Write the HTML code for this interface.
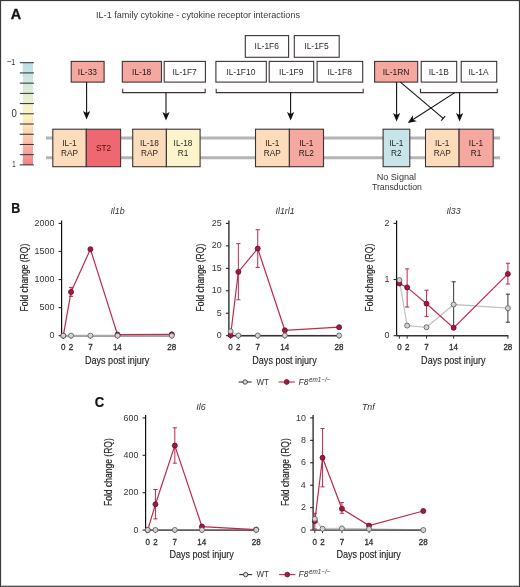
<!DOCTYPE html>
<html><head><meta charset="utf-8"><style>
html,body{margin:0;padding:0;background:#fff;}
svg{display:block;will-change:transform;filter:blur(0.3px);}
text{font-family:"Liberation Sans",sans-serif;}
</style></head><body>
<svg width="520" height="587" viewBox="0 0 520 587">
<rect x="0.5" y="0.5" width="519" height="585.8" fill="#fff" stroke="#3a3a3a" stroke-width="1.2"/>
<text x="10.84" y="18.8" font-size="14.4" font-weight="bold" fill="#111" textLength="10.44" lengthAdjust="spacingAndGlyphs" stroke="#111" stroke-width="0.3">A</text>
<text x="96.06" y="17.8" font-size="9.4" fill="#3a3a3a" textLength="203.97" lengthAdjust="spacingAndGlyphs">IL-1 family cytokine - cytokine receptor interactions</text>
<defs><linearGradient id="cb" x1="0" y1="0" x2="0" y2="1"><stop offset="0" stop-color="#bcdde9"/><stop offset="0.2" stop-color="#d3e8e0"/><stop offset="0.35" stop-color="#e6efcf"/><stop offset="0.5" stop-color="#fcf5c6"/><stop offset="0.65" stop-color="#fcdcb4"/><stop offset="0.8" stop-color="#f8b9a8"/><stop offset="1" stop-color="#f07f86"/></linearGradient></defs>
<rect x="22.8" y="62.7" width="10.2" height="102.2" fill="url(#cb)"/>
<line x1="19.8" y1="62.7" x2="33.9" y2="62.7" stroke="#2e2e2e" stroke-width="1"/>
<line x1="19.8" y1="72.92" x2="33.9" y2="72.92" stroke="#2e2e2e" stroke-width="1"/>
<line x1="19.8" y1="83.14" x2="33.9" y2="83.14" stroke="#2e2e2e" stroke-width="1"/>
<line x1="19.8" y1="93.36" x2="33.9" y2="93.36" stroke="#2e2e2e" stroke-width="1"/>
<line x1="19.8" y1="103.58" x2="33.9" y2="103.58" stroke="#2e2e2e" stroke-width="1"/>
<line x1="19.8" y1="113.8" x2="33.9" y2="113.8" stroke="#2e2e2e" stroke-width="1"/>
<line x1="19.8" y1="124.02" x2="33.9" y2="124.02" stroke="#2e2e2e" stroke-width="1"/>
<line x1="19.8" y1="134.24" x2="33.9" y2="134.24" stroke="#2e2e2e" stroke-width="1"/>
<line x1="19.8" y1="144.46" x2="33.9" y2="144.46" stroke="#2e2e2e" stroke-width="1"/>
<line x1="19.8" y1="154.68" x2="33.9" y2="154.68" stroke="#2e2e2e" stroke-width="1"/>
<line x1="19.8" y1="164.9" x2="33.9" y2="164.9" stroke="#2e2e2e" stroke-width="1"/>
<text x="7.04" y="65" font-size="9.6" fill="#333" textLength="8.32" lengthAdjust="spacingAndGlyphs">−1</text>
<text x="11.52" y="116.8" font-size="10.3" fill="#333" textLength="5.35" lengthAdjust="spacingAndGlyphs">0</text>
<text x="12.14" y="167.3" font-size="9.8" fill="#333" textLength="3.35" lengthAdjust="spacingAndGlyphs">1</text>
<line x1="46" y1="138" x2="500" y2="138" stroke="#b4b4b4" stroke-width="3"/>
<line x1="46" y1="157.7" x2="500" y2="157.7" stroke="#b4b4b4" stroke-width="3"/>
<rect x="71.2" y="61.4" width="32.9" height="20.7" fill="#f4a8a0" stroke="#3c3434" stroke-width="1.1"/>
<text x="77.83" y="74.6" font-size="9.7" fill="#2a2a2a" textLength="19.23" lengthAdjust="spacingAndGlyphs" style="mix-blend-mode:multiply">IL-33</text>
<rect x="122.3" y="61.4" width="39.2" height="20.7" fill="#f4a8a0" stroke="#3c3434" stroke-width="1.1"/>
<text x="132.08" y="74.6" font-size="9.7" fill="#2a2a2a" textLength="19.23" lengthAdjust="spacingAndGlyphs" style="mix-blend-mode:multiply">IL-18</text>
<rect x="164.2" y="61.4" width="41.2" height="20.7" fill="#fff" stroke="#3c3434" stroke-width="1.1"/>
<text x="172.43" y="74.6" font-size="9.7" fill="#2a2a2a" textLength="24.39" lengthAdjust="spacingAndGlyphs" style="mix-blend-mode:multiply">IL-1F7</text>
<rect x="245.3" y="35.6" width="43.3" height="21.7" fill="#fff" stroke="#3c3434" stroke-width="1.1"/>
<text x="254.55" y="49.3" font-size="9.7" fill="#2a2a2a" textLength="24.39" lengthAdjust="spacingAndGlyphs" style="mix-blend-mode:multiply">IL-1F6</text>
<rect x="294.3" y="35.6" width="44.9" height="21.7" fill="#fff" stroke="#3c3434" stroke-width="1.1"/>
<text x="304.34" y="49.3" font-size="9.7" fill="#2a2a2a" textLength="24.39" lengthAdjust="spacingAndGlyphs" style="mix-blend-mode:multiply">IL-1F5</text>
<rect x="215.9" y="61.4" width="50.4" height="20.7" fill="#fff" stroke="#3c3434" stroke-width="1.1"/>
<text x="226.33" y="74.6" font-size="9.7" fill="#2a2a2a" textLength="29.08" lengthAdjust="spacingAndGlyphs" style="mix-blend-mode:multiply">IL-1F10</text>
<rect x="269.2" y="61.4" width="44.5" height="20.7" fill="#fff" stroke="#3c3434" stroke-width="1.1"/>
<text x="279.07" y="74.6" font-size="9.7" fill="#2a2a2a" textLength="24.39" lengthAdjust="spacingAndGlyphs" style="mix-blend-mode:multiply">IL-1F9</text>
<rect x="317.1" y="61.4" width="45.6" height="20.7" fill="#fff" stroke="#3c3434" stroke-width="1.1"/>
<text x="327.5" y="74.6" font-size="9.7" fill="#2a2a2a" textLength="24.39" lengthAdjust="spacingAndGlyphs" style="mix-blend-mode:multiply">IL-1F8</text>
<rect x="374.6" y="61.4" width="43.1" height="20.7" fill="#f4a8a0" stroke="#3c3434" stroke-width="1.1"/>
<text x="382.74" y="74.6" font-size="9.7" fill="#2a2a2a" textLength="26.73" lengthAdjust="spacingAndGlyphs" style="mix-blend-mode:multiply">IL-1RN</text>
<rect x="421.2" y="61.4" width="35.5" height="20.7" fill="#fff" stroke="#3c3434" stroke-width="1.1"/>
<text x="428.7" y="74.6" font-size="9.7" fill="#2a2a2a" textLength="20.17" lengthAdjust="spacingAndGlyphs" style="mix-blend-mode:multiply">IL-1B</text>
<rect x="461.2" y="61.4" width="35.5" height="20.7" fill="#fff" stroke="#3c3434" stroke-width="1.1"/>
<text x="468.48" y="74.6" font-size="9.7" fill="#2a2a2a" textLength="20.17" lengthAdjust="spacingAndGlyphs" style="mix-blend-mode:multiply">IL-1A</text>
<path d="M122.7 88.8V92.6H205.2V88.8" fill="none" stroke="#3c3434" stroke-width="1.1"/>
<path d="M216.2 88.8V92.6H363.2V88.8" fill="none" stroke="#3c3434" stroke-width="1.1"/>
<path d="M420.5 88.8V92.6H497.3V88.8" fill="none" stroke="#3c3434" stroke-width="1.1"/>
<line x1="86.6" y1="82.1" x2="86.6" y2="113.03" stroke="#111" stroke-width="1.1"/>
<path d="M86.6 119.4L83 110.9L86.6 113.03L90.2 110.9Z" fill="#111"/>
<line x1="166" y1="92.6" x2="166" y2="114.03" stroke="#111" stroke-width="1.1"/>
<path d="M166 120.4L162.4 111.9L166 114.03L169.6 111.9Z" fill="#111"/>
<line x1="290.6" y1="92.6" x2="290.6" y2="114.03" stroke="#111" stroke-width="1.1"/>
<path d="M290.6 120.4L287 111.9L290.6 114.03L294.2 111.9Z" fill="#111"/>
<line x1="396.6" y1="82.1" x2="396.6" y2="115.12" stroke="#111" stroke-width="1.1"/>
<path d="M396.6 121.5L393 113L396.6 115.12L400.2 113Z" fill="#111"/>
<line x1="459.6" y1="92.6" x2="459.6" y2="115.12" stroke="#111" stroke-width="1.1"/>
<path d="M459.6 121.5L456 113L459.6 115.12L463.2 113Z" fill="#111"/>
<line x1="454.8" y1="92.6" x2="413.06" y2="119.45" stroke="#111" stroke-width="1.1"/>
<path d="M407.7 122.9L412.9 115.27L413.06 119.45L416.8 121.33Z" fill="#111"/>
<line x1="400.4" y1="82.1" x2="443.2" y2="118.4" stroke="#111" stroke-width="1.1"/>
<line x1="441.26" y1="120.69" x2="445.14" y2="116.11" stroke="#111" stroke-width="1.1"/>
<rect x="52.8" y="129.2" width="33.5" height="37.5" fill="#fcdcbb" stroke="#3c3434" stroke-width="1.1"/>
<text x="62.24" y="145.6" font-size="9.4" fill="#2a2a2a" textLength="14.25" lengthAdjust="spacingAndGlyphs" style="mix-blend-mode:multiply">IL-1</text>
<text x="60.92" y="156" font-size="9.4" fill="#2a2a2a" textLength="17.01" lengthAdjust="spacingAndGlyphs" style="mix-blend-mode:multiply">RAP</text>
<rect x="86.3" y="129.2" width="34.3" height="37.5" fill="#ed6870" stroke="#3c3434" stroke-width="1.1"/>
<text x="95.88" y="151" font-size="9.4" fill="#6a1019" textLength="15.17" lengthAdjust="spacingAndGlyphs" style="mix-blend-mode:multiply">ST2</text>
<rect x="132.7" y="129.2" width="33.7" height="37.5" fill="#fcdcbb" stroke="#3c3434" stroke-width="1.1"/>
<text x="139.92" y="145.6" font-size="9.4" fill="#2a2a2a" textLength="18.85" lengthAdjust="spacingAndGlyphs" style="mix-blend-mode:multiply">IL-18</text>
<text x="140.92" y="156" font-size="9.4" fill="#2a2a2a" textLength="17.01" lengthAdjust="spacingAndGlyphs" style="mix-blend-mode:multiply">RAP</text>
<rect x="166.4" y="129.2" width="33.7" height="37.5" fill="#fcf5cc" stroke="#3c3434" stroke-width="1.1"/>
<text x="173.62" y="145.6" font-size="9.4" fill="#2a2a2a" textLength="18.85" lengthAdjust="spacingAndGlyphs" style="mix-blend-mode:multiply">IL-18</text>
<text x="177.83" y="156" font-size="9.4" fill="#2a2a2a" textLength="10.57" lengthAdjust="spacingAndGlyphs" style="mix-blend-mode:multiply">R1</text>
<rect x="255.5" y="129.2" width="33.9" height="37.5" fill="#fcdcbb" stroke="#3c3434" stroke-width="1.1"/>
<text x="265.14" y="145.6" font-size="9.4" fill="#2a2a2a" textLength="14.25" lengthAdjust="spacingAndGlyphs" style="mix-blend-mode:multiply">IL-1</text>
<text x="263.82" y="156" font-size="9.4" fill="#2a2a2a" textLength="17.01" lengthAdjust="spacingAndGlyphs" style="mix-blend-mode:multiply">RAP</text>
<rect x="289.4" y="129.2" width="34.1" height="37.5" fill="#f4a8a0" stroke="#3c3434" stroke-width="1.1"/>
<text x="299.14" y="145.6" font-size="9.4" fill="#2a2a2a" textLength="14.25" lengthAdjust="spacingAndGlyphs" style="mix-blend-mode:multiply">IL-1</text>
<text x="298.73" y="156" font-size="9.4" fill="#2a2a2a" textLength="15.17" lengthAdjust="spacingAndGlyphs" style="mix-blend-mode:multiply">RL2</text>
<rect x="383.1" y="129.2" width="26.7" height="37.5" fill="#c7e5e9" stroke="#3c3434" stroke-width="1.1"/>
<text x="389.14" y="145.6" font-size="9.4" fill="#2a2a2a" textLength="14.25" lengthAdjust="spacingAndGlyphs" style="mix-blend-mode:multiply">IL-1</text>
<text x="391.03" y="156" font-size="9.4" fill="#2a2a2a" textLength="10.57" lengthAdjust="spacingAndGlyphs" style="mix-blend-mode:multiply">R2</text>
<rect x="425.5" y="129.2" width="33.6" height="37.5" fill="#fcdcbb" stroke="#3c3434" stroke-width="1.1"/>
<text x="434.99" y="145.6" font-size="9.4" fill="#2a2a2a" textLength="14.25" lengthAdjust="spacingAndGlyphs" style="mix-blend-mode:multiply">IL-1</text>
<text x="433.67" y="156" font-size="9.4" fill="#2a2a2a" textLength="17.01" lengthAdjust="spacingAndGlyphs" style="mix-blend-mode:multiply">RAP</text>
<rect x="459.1" y="129.2" width="34.1" height="37.5" fill="#f4a8a0" stroke="#3c3434" stroke-width="1.1"/>
<text x="468.84" y="145.6" font-size="9.4" fill="#2a2a2a" textLength="14.25" lengthAdjust="spacingAndGlyphs" style="mix-blend-mode:multiply">IL-1</text>
<text x="470.73" y="156" font-size="9.4" fill="#2a2a2a" textLength="10.57" lengthAdjust="spacingAndGlyphs" style="mix-blend-mode:multiply">R1</text>
<text x="376.65" y="179.5" font-size="8.8" fill="#333" textLength="39.46" lengthAdjust="spacingAndGlyphs">No Signal</text>
<text x="371.91" y="190" font-size="8.8" fill="#333" textLength="50.06" lengthAdjust="spacingAndGlyphs">Transduction</text>
<text x="11.17" y="212.7" font-size="14.2" font-weight="bold" fill="#111" textLength="9" lengthAdjust="spacingAndGlyphs" stroke="#111" stroke-width="0.2">B</text>
<text x="94.86" y="406.5" font-size="14.2" font-weight="bold" fill="#111" textLength="9.5" lengthAdjust="spacingAndGlyphs" stroke="#111" stroke-width="0.2">C</text>
<text x="110.4" y="214.2" font-size="9.8" font-style="italic" fill="#333" textLength="14.22" lengthAdjust="spacingAndGlyphs">Il1b</text>
<line x1="61.6" y1="335.7" x2="61.6" y2="220.4" stroke="#111" stroke-width="1.2"/>
<line x1="58.6" y1="335.7" x2="61.6" y2="335.7" stroke="#222" stroke-width="1.1"/>
<text x="49.39" y="338.3" font-size="9.1" fill="#333" textLength="4.96" lengthAdjust="spacingAndGlyphs">0</text>
<line x1="58.6" y1="307.62" x2="61.6" y2="307.62" stroke="#222" stroke-width="1.1"/>
<text x="39.47" y="310.23" font-size="9.1" fill="#333" textLength="14.88" lengthAdjust="spacingAndGlyphs">500</text>
<line x1="58.6" y1="279.55" x2="61.6" y2="279.55" stroke="#222" stroke-width="1.1"/>
<text x="34.51" y="282.15" font-size="9.1" fill="#333" textLength="19.84" lengthAdjust="spacingAndGlyphs">1000</text>
<line x1="58.6" y1="251.47" x2="61.6" y2="251.47" stroke="#222" stroke-width="1.1"/>
<text x="34.51" y="254.07" font-size="9.1" fill="#333" textLength="19.84" lengthAdjust="spacingAndGlyphs">1500</text>
<line x1="58.6" y1="223.4" x2="61.6" y2="223.4" stroke="#222" stroke-width="1.1"/>
<text x="34.51" y="226" font-size="9.1" fill="#333" textLength="19.84" lengthAdjust="spacingAndGlyphs">2000</text>
<line x1="63.3" y1="335.7" x2="63.3" y2="338.7" stroke="#333" stroke-width="1"/>
<text x="61.07" y="350.4" font-size="9.9" fill="#2a2a2a" textLength="4.46" lengthAdjust="spacingAndGlyphs" stroke="#2a2a2a" stroke-width="0.3">0</text>
<line x1="71.05" y1="335.7" x2="71.05" y2="338.7" stroke="#333" stroke-width="1"/>
<text x="68.82" y="350.4" font-size="9.9" fill="#2a2a2a" textLength="4.46" lengthAdjust="spacingAndGlyphs" stroke="#2a2a2a" stroke-width="0.3">2</text>
<line x1="90.42" y1="335.7" x2="90.42" y2="338.7" stroke="#333" stroke-width="1"/>
<text x="88.19" y="350.4" font-size="9.9" fill="#2a2a2a" textLength="4.46" lengthAdjust="spacingAndGlyphs" stroke="#2a2a2a" stroke-width="0.3">7</text>
<line x1="117.55" y1="335.7" x2="117.55" y2="338.7" stroke="#333" stroke-width="1"/>
<text x="112.9" y="350.4" font-size="9.9" fill="#2a2a2a" textLength="8.92" lengthAdjust="spacingAndGlyphs" stroke="#2a2a2a" stroke-width="0.3">14</text>
<line x1="171.8" y1="335.7" x2="171.8" y2="338.7" stroke="#333" stroke-width="1"/>
<text x="167.31" y="350.4" font-size="9.9" fill="#2a2a2a" textLength="8.92" lengthAdjust="spacingAndGlyphs" stroke="#2a2a2a" stroke-width="0.3">28</text>
<line x1="71.05" y1="296.39" x2="71.05" y2="287.41" stroke="#bd2a4c" stroke-width="1"/>
<line x1="68.95" y1="296.39" x2="73.15" y2="296.39" stroke="#bd2a4c" stroke-width="1"/>
<line x1="68.95" y1="287.41" x2="73.15" y2="287.41" stroke="#bd2a4c" stroke-width="1"/>
<line x1="61.6" y1="335.7" x2="172.3" y2="335.7" stroke="#333" stroke-width="1.4"/>
<polyline points="63.3,335.64 71.05,335.64 90.42,335.64 117.55,335.64 171.8,335.64" fill="none" stroke="#aaa" stroke-width="1.9"/>
<polyline points="63.3,335.7 71.05,291.9 90.42,249.23 117.55,334.58 171.8,334.3" fill="none" stroke="#bd2a4c" stroke-width="1.2"/>
<circle cx="63.3" cy="335.7" r="2.5" fill="#a8183e" stroke="#5e0b22" stroke-width="0.8"/>
<circle cx="71.05" cy="291.9" r="2.5" fill="#a8183e" stroke="#5e0b22" stroke-width="0.8"/>
<circle cx="90.42" cy="249.23" r="2.5" fill="#a8183e" stroke="#5e0b22" stroke-width="0.8"/>
<circle cx="117.55" cy="334.58" r="2.5" fill="#a8183e" stroke="#5e0b22" stroke-width="0.8"/>
<circle cx="171.8" cy="334.3" r="2.5" fill="#a8183e" stroke="#5e0b22" stroke-width="0.8"/>
<circle cx="63.3" cy="335.64" r="2.5" fill="#d4d4d4" stroke="#555" stroke-width="0.8"/>
<circle cx="71.05" cy="335.64" r="2.5" fill="#d4d4d4" stroke="#555" stroke-width="0.8"/>
<circle cx="90.42" cy="335.64" r="2.5" fill="#d4d4d4" stroke="#555" stroke-width="0.8"/>
<circle cx="117.55" cy="335.64" r="2.5" fill="#d4d4d4" stroke="#555" stroke-width="0.8"/>
<circle cx="171.8" cy="335.64" r="2.5" fill="#d4d4d4" stroke="#555" stroke-width="0.8"/>
<text x="85.01" y="363.9" font-size="10.9" fill="#222" textLength="64.36" lengthAdjust="spacingAndGlyphs" stroke="#222" stroke-width="0.15">Days post injury</text>
<text transform="translate(27.9,277.65) rotate(-90)" x="-33.89" y="0" font-size="10.4" fill="#222" stroke="#222" stroke-width="0.15" textLength="67.78" lengthAdjust="spacingAndGlyphs">Fold change (RQ)</text>
<text x="275.49" y="214.2" font-size="9.8" font-style="italic" fill="#333" textLength="19.12" lengthAdjust="spacingAndGlyphs">Il1rl1</text>
<line x1="228.9" y1="335.7" x2="228.9" y2="220.4" stroke="#111" stroke-width="1.2"/>
<line x1="225.9" y1="335.7" x2="228.9" y2="335.7" stroke="#222" stroke-width="1.1"/>
<text x="216.69" y="338.3" font-size="9.1" fill="#333" textLength="4.96" lengthAdjust="spacingAndGlyphs">0</text>
<line x1="225.9" y1="313.24" x2="228.9" y2="313.24" stroke="#222" stroke-width="1.1"/>
<text x="216.71" y="315.84" font-size="9.1" fill="#333" textLength="4.96" lengthAdjust="spacingAndGlyphs">5</text>
<line x1="225.9" y1="290.78" x2="228.9" y2="290.78" stroke="#222" stroke-width="1.1"/>
<text x="211.73" y="293.38" font-size="9.1" fill="#333" textLength="9.92" lengthAdjust="spacingAndGlyphs">10</text>
<line x1="225.9" y1="268.32" x2="228.9" y2="268.32" stroke="#222" stroke-width="1.1"/>
<text x="211.75" y="270.92" font-size="9.1" fill="#333" textLength="9.92" lengthAdjust="spacingAndGlyphs">15</text>
<line x1="225.9" y1="245.86" x2="228.9" y2="245.86" stroke="#222" stroke-width="1.1"/>
<text x="211.73" y="248.46" font-size="9.1" fill="#333" textLength="9.92" lengthAdjust="spacingAndGlyphs">20</text>
<line x1="225.9" y1="223.4" x2="228.9" y2="223.4" stroke="#222" stroke-width="1.1"/>
<text x="211.75" y="226" font-size="9.1" fill="#333" textLength="9.92" lengthAdjust="spacingAndGlyphs">25</text>
<line x1="230.6" y1="335.7" x2="230.6" y2="338.7" stroke="#333" stroke-width="1"/>
<text x="228.37" y="350.4" font-size="9.9" fill="#2a2a2a" textLength="4.46" lengthAdjust="spacingAndGlyphs" stroke="#2a2a2a" stroke-width="0.3">0</text>
<line x1="238.35" y1="335.7" x2="238.35" y2="338.7" stroke="#333" stroke-width="1"/>
<text x="236.12" y="350.4" font-size="9.9" fill="#2a2a2a" textLength="4.46" lengthAdjust="spacingAndGlyphs" stroke="#2a2a2a" stroke-width="0.3">2</text>
<line x1="257.73" y1="335.7" x2="257.73" y2="338.7" stroke="#333" stroke-width="1"/>
<text x="255.49" y="350.4" font-size="9.9" fill="#2a2a2a" textLength="4.46" lengthAdjust="spacingAndGlyphs" stroke="#2a2a2a" stroke-width="0.3">7</text>
<line x1="284.85" y1="335.7" x2="284.85" y2="338.7" stroke="#333" stroke-width="1"/>
<text x="280.2" y="350.4" font-size="9.9" fill="#2a2a2a" textLength="8.92" lengthAdjust="spacingAndGlyphs" stroke="#2a2a2a" stroke-width="0.3">14</text>
<line x1="339.1" y1="335.7" x2="339.1" y2="338.7" stroke="#333" stroke-width="1"/>
<text x="334.61" y="350.4" font-size="9.9" fill="#2a2a2a" textLength="8.92" lengthAdjust="spacingAndGlyphs" stroke="#2a2a2a" stroke-width="0.3">28</text>
<line x1="238.35" y1="299.76" x2="238.35" y2="243.61" stroke="#bd2a4c" stroke-width="1"/>
<line x1="236.25" y1="299.76" x2="240.45" y2="299.76" stroke="#bd2a4c" stroke-width="1"/>
<line x1="236.25" y1="243.61" x2="240.45" y2="243.61" stroke="#bd2a4c" stroke-width="1"/>
<line x1="257.73" y1="267.42" x2="257.73" y2="229.69" stroke="#bd2a4c" stroke-width="1"/>
<line x1="255.63" y1="267.42" x2="259.83" y2="267.42" stroke="#bd2a4c" stroke-width="1"/>
<line x1="255.63" y1="229.69" x2="259.83" y2="229.69" stroke="#bd2a4c" stroke-width="1"/>
<polyline points="230.6,331.21 238.35,335.48 257.73,335.48 284.85,335.48 339.1,335.48" fill="none" stroke="#c4c4c4" stroke-width="1.3"/>
<line x1="228.9" y1="335.7" x2="339.6" y2="335.7" stroke="#333" stroke-width="1.4"/>
<polyline points="230.6,335.25 238.35,271.91 257.73,248.56 284.85,330.31 339.1,327.17" fill="none" stroke="#bd2a4c" stroke-width="1.2"/>
<circle cx="230.6" cy="335.25" r="2.5" fill="#a8183e" stroke="#5e0b22" stroke-width="0.8"/>
<circle cx="238.35" cy="271.91" r="2.5" fill="#a8183e" stroke="#5e0b22" stroke-width="0.8"/>
<circle cx="257.73" cy="248.56" r="2.5" fill="#a8183e" stroke="#5e0b22" stroke-width="0.8"/>
<circle cx="284.85" cy="330.31" r="2.5" fill="#a8183e" stroke="#5e0b22" stroke-width="0.8"/>
<circle cx="339.1" cy="327.17" r="2.5" fill="#a8183e" stroke="#5e0b22" stroke-width="0.8"/>
<circle cx="230.6" cy="331.21" r="2.5" fill="#d4d4d4" stroke="#555" stroke-width="0.8"/>
<circle cx="238.35" cy="335.48" r="2.5" fill="#d4d4d4" stroke="#555" stroke-width="0.8"/>
<circle cx="257.73" cy="335.48" r="2.5" fill="#d4d4d4" stroke="#555" stroke-width="0.8"/>
<circle cx="284.85" cy="335.48" r="2.5" fill="#d4d4d4" stroke="#555" stroke-width="0.8"/>
<circle cx="339.1" cy="335.48" r="2.5" fill="#d4d4d4" stroke="#555" stroke-width="0.8"/>
<text x="252.31" y="363.9" font-size="10.9" fill="#222" textLength="64.36" lengthAdjust="spacingAndGlyphs" stroke="#222" stroke-width="0.15">Days post injury</text>
<text transform="translate(204.4,277.65) rotate(-90)" x="-33.89" y="0" font-size="10.4" fill="#222" stroke="#222" stroke-width="0.15" textLength="67.78" lengthAdjust="spacingAndGlyphs">Fold change (RQ)</text>
<text x="446.4" y="214.2" font-size="9.8" font-style="italic" fill="#333" textLength="14.22" lengthAdjust="spacingAndGlyphs">Il33</text>
<line x1="396.6" y1="335.7" x2="396.6" y2="220.4" stroke="#111" stroke-width="1.2"/>
<line x1="393.6" y1="335.7" x2="396.6" y2="335.7" stroke="#222" stroke-width="1.1"/>
<text x="384.39" y="338.3" font-size="9.1" fill="#333" textLength="4.96" lengthAdjust="spacingAndGlyphs">0</text>
<line x1="393.6" y1="279.55" x2="396.6" y2="279.55" stroke="#222" stroke-width="1.1"/>
<text x="384.48" y="282.15" font-size="9.1" fill="#333" textLength="4.96" lengthAdjust="spacingAndGlyphs">1</text>
<line x1="393.6" y1="223.4" x2="396.6" y2="223.4" stroke="#222" stroke-width="1.1"/>
<text x="384.49" y="226" font-size="9.1" fill="#333" textLength="4.96" lengthAdjust="spacingAndGlyphs">2</text>
<line x1="399.4" y1="335.7" x2="399.4" y2="338.7" stroke="#333" stroke-width="1"/>
<text x="397.17" y="350.4" font-size="9.9" fill="#2a2a2a" textLength="4.46" lengthAdjust="spacingAndGlyphs" stroke="#2a2a2a" stroke-width="0.3">0</text>
<line x1="407.15" y1="335.7" x2="407.15" y2="338.7" stroke="#333" stroke-width="1"/>
<text x="404.92" y="350.4" font-size="9.9" fill="#2a2a2a" textLength="4.46" lengthAdjust="spacingAndGlyphs" stroke="#2a2a2a" stroke-width="0.3">2</text>
<line x1="426.52" y1="335.7" x2="426.52" y2="338.7" stroke="#333" stroke-width="1"/>
<text x="424.29" y="350.4" font-size="9.9" fill="#2a2a2a" textLength="4.46" lengthAdjust="spacingAndGlyphs" stroke="#2a2a2a" stroke-width="0.3">7</text>
<line x1="453.65" y1="335.7" x2="453.65" y2="338.7" stroke="#333" stroke-width="1"/>
<text x="449" y="350.4" font-size="9.9" fill="#2a2a2a" textLength="8.92" lengthAdjust="spacingAndGlyphs" stroke="#2a2a2a" stroke-width="0.3">14</text>
<line x1="507.9" y1="335.7" x2="507.9" y2="338.7" stroke="#333" stroke-width="1"/>
<text x="503.41" y="350.4" font-size="9.9" fill="#2a2a2a" textLength="8.92" lengthAdjust="spacingAndGlyphs" stroke="#2a2a2a" stroke-width="0.3">28</text>
<line x1="453.65" y1="327.28" x2="453.65" y2="281.8" stroke="#333" stroke-width="1"/>
<line x1="451.55" y1="327.28" x2="455.75" y2="327.28" stroke="#333" stroke-width="1"/>
<line x1="451.55" y1="281.8" x2="455.75" y2="281.8" stroke="#333" stroke-width="1"/>
<line x1="507.9" y1="322.22" x2="507.9" y2="294.15" stroke="#333" stroke-width="1"/>
<line x1="505.8" y1="322.22" x2="510" y2="322.22" stroke="#333" stroke-width="1"/>
<line x1="505.8" y1="294.15" x2="510" y2="294.15" stroke="#333" stroke-width="1"/>
<line x1="407.15" y1="307.06" x2="407.15" y2="268.88" stroke="#bd2a4c" stroke-width="1"/>
<line x1="405.05" y1="307.06" x2="409.25" y2="307.06" stroke="#bd2a4c" stroke-width="1"/>
<line x1="405.05" y1="268.88" x2="409.25" y2="268.88" stroke="#bd2a4c" stroke-width="1"/>
<line x1="426.52" y1="316.61" x2="426.52" y2="290.22" stroke="#bd2a4c" stroke-width="1"/>
<line x1="424.42" y1="316.61" x2="428.62" y2="316.61" stroke="#bd2a4c" stroke-width="1"/>
<line x1="424.42" y1="290.22" x2="428.62" y2="290.22" stroke="#bd2a4c" stroke-width="1"/>
<line x1="507.9" y1="284.04" x2="507.9" y2="263.27" stroke="#bd2a4c" stroke-width="1"/>
<line x1="505.8" y1="284.04" x2="510" y2="284.04" stroke="#bd2a4c" stroke-width="1"/>
<line x1="505.8" y1="263.27" x2="510" y2="263.27" stroke="#bd2a4c" stroke-width="1"/>
<polyline points="399.4,280.11 407.15,325.59 426.52,327.28 453.65,304.54 507.9,308.19" fill="none" stroke="#c4c4c4" stroke-width="1.3"/>
<line x1="396.6" y1="335.7" x2="508.4" y2="335.7" stroke="#333" stroke-width="1.4"/>
<polyline points="399.4,283.48 407.15,287.41 426.52,303.69 453.65,327.84 507.9,273.94" fill="none" stroke="#bd2a4c" stroke-width="1.2"/>
<circle cx="399.4" cy="283.48" r="2.5" fill="#a8183e" stroke="#5e0b22" stroke-width="0.8"/>
<circle cx="407.15" cy="287.41" r="2.5" fill="#a8183e" stroke="#5e0b22" stroke-width="0.8"/>
<circle cx="426.52" cy="303.69" r="2.5" fill="#a8183e" stroke="#5e0b22" stroke-width="0.8"/>
<circle cx="453.65" cy="327.84" r="2.5" fill="#a8183e" stroke="#5e0b22" stroke-width="0.8"/>
<circle cx="507.9" cy="273.94" r="2.5" fill="#a8183e" stroke="#5e0b22" stroke-width="0.8"/>
<circle cx="399.4" cy="280.11" r="2.5" fill="#d4d4d4" stroke="#555" stroke-width="0.8"/>
<circle cx="407.15" cy="325.59" r="2.5" fill="#d4d4d4" stroke="#555" stroke-width="0.8"/>
<circle cx="426.52" cy="327.28" r="2.5" fill="#d4d4d4" stroke="#555" stroke-width="0.8"/>
<circle cx="453.65" cy="304.54" r="2.5" fill="#d4d4d4" stroke="#555" stroke-width="0.8"/>
<circle cx="507.9" cy="308.19" r="2.5" fill="#d4d4d4" stroke="#555" stroke-width="0.8"/>
<text x="421.11" y="363.9" font-size="10.9" fill="#222" textLength="64.36" lengthAdjust="spacingAndGlyphs" stroke="#222" stroke-width="0.15">Days post injury</text>
<text transform="translate(373.2,277.65) rotate(-90)" x="-33.89" y="0" font-size="10.4" fill="#222" stroke="#222" stroke-width="0.15" textLength="67.78" lengthAdjust="spacingAndGlyphs">Fold change (RQ)</text>
<text x="196.32" y="409.5" font-size="9.8" font-style="italic" fill="#333" textLength="9.32" lengthAdjust="spacingAndGlyphs">Il6</text>
<line x1="145.6" y1="530.1" x2="145.6" y2="414.9" stroke="#111" stroke-width="1.2"/>
<line x1="142.6" y1="530.1" x2="145.6" y2="530.1" stroke="#222" stroke-width="1.1"/>
<text x="133.39" y="532.7" font-size="9.1" fill="#333" textLength="4.96" lengthAdjust="spacingAndGlyphs">0</text>
<line x1="142.6" y1="492.7" x2="145.6" y2="492.7" stroke="#222" stroke-width="1.1"/>
<text x="123.47" y="495.3" font-size="9.1" fill="#333" textLength="14.88" lengthAdjust="spacingAndGlyphs">200</text>
<line x1="142.6" y1="455.3" x2="145.6" y2="455.3" stroke="#222" stroke-width="1.1"/>
<text x="123.47" y="457.9" font-size="9.1" fill="#333" textLength="14.88" lengthAdjust="spacingAndGlyphs">400</text>
<line x1="142.6" y1="417.9" x2="145.6" y2="417.9" stroke="#222" stroke-width="1.1"/>
<text x="123.47" y="420.5" font-size="9.1" fill="#333" textLength="14.88" lengthAdjust="spacingAndGlyphs">600</text>
<line x1="147.7" y1="530.1" x2="147.7" y2="533.1" stroke="#333" stroke-width="1"/>
<text x="145.47" y="544.8" font-size="9.9" fill="#2a2a2a" textLength="4.46" lengthAdjust="spacingAndGlyphs" stroke="#2a2a2a" stroke-width="0.3">0</text>
<line x1="155.45" y1="530.1" x2="155.45" y2="533.1" stroke="#333" stroke-width="1"/>
<text x="153.22" y="544.8" font-size="9.9" fill="#2a2a2a" textLength="4.46" lengthAdjust="spacingAndGlyphs" stroke="#2a2a2a" stroke-width="0.3">2</text>
<line x1="174.82" y1="530.1" x2="174.82" y2="533.1" stroke="#333" stroke-width="1"/>
<text x="172.59" y="544.8" font-size="9.9" fill="#2a2a2a" textLength="4.46" lengthAdjust="spacingAndGlyphs" stroke="#2a2a2a" stroke-width="0.3">7</text>
<line x1="201.95" y1="530.1" x2="201.95" y2="533.1" stroke="#333" stroke-width="1"/>
<text x="197.3" y="544.8" font-size="9.9" fill="#2a2a2a" textLength="8.92" lengthAdjust="spacingAndGlyphs" stroke="#2a2a2a" stroke-width="0.3">14</text>
<line x1="256.2" y1="530.1" x2="256.2" y2="533.1" stroke="#333" stroke-width="1"/>
<text x="251.71" y="544.8" font-size="9.9" fill="#2a2a2a" textLength="8.92" lengthAdjust="spacingAndGlyphs" stroke="#2a2a2a" stroke-width="0.3">28</text>
<line x1="155.45" y1="518.88" x2="155.45" y2="489.52" stroke="#bd2a4c" stroke-width="1"/>
<line x1="153.35" y1="518.88" x2="157.55" y2="518.88" stroke="#bd2a4c" stroke-width="1"/>
<line x1="153.35" y1="489.52" x2="157.55" y2="489.52" stroke="#bd2a4c" stroke-width="1"/>
<line x1="174.82" y1="463.15" x2="174.82" y2="427.81" stroke="#bd2a4c" stroke-width="1"/>
<line x1="172.72" y1="463.15" x2="176.92" y2="463.15" stroke="#bd2a4c" stroke-width="1"/>
<line x1="172.72" y1="427.81" x2="176.92" y2="427.81" stroke="#bd2a4c" stroke-width="1"/>
<polyline points="147.7,529.91 155.45,529.91 174.82,529.91 201.95,529.91 256.2,529.91" fill="none" stroke="#c4c4c4" stroke-width="1.3"/>
<line x1="145.6" y1="530.1" x2="256.7" y2="530.1" stroke="#333" stroke-width="1.4"/>
<polyline points="147.7,530.1 155.45,504.29 174.82,445.58 201.95,526.55 256.2,529.54" fill="none" stroke="#bd2a4c" stroke-width="1.2"/>
<circle cx="147.7" cy="530.1" r="2.5" fill="#a8183e" stroke="#5e0b22" stroke-width="0.8"/>
<circle cx="155.45" cy="504.29" r="2.5" fill="#a8183e" stroke="#5e0b22" stroke-width="0.8"/>
<circle cx="174.82" cy="445.58" r="2.5" fill="#a8183e" stroke="#5e0b22" stroke-width="0.8"/>
<circle cx="201.95" cy="526.55" r="2.5" fill="#a8183e" stroke="#5e0b22" stroke-width="0.8"/>
<circle cx="256.2" cy="529.54" r="2.5" fill="#a8183e" stroke="#5e0b22" stroke-width="0.8"/>
<circle cx="147.7" cy="529.91" r="2.5" fill="#d4d4d4" stroke="#555" stroke-width="0.8"/>
<circle cx="155.45" cy="529.91" r="2.5" fill="#d4d4d4" stroke="#555" stroke-width="0.8"/>
<circle cx="174.82" cy="529.91" r="2.5" fill="#d4d4d4" stroke="#555" stroke-width="0.8"/>
<circle cx="201.95" cy="529.91" r="2.5" fill="#d4d4d4" stroke="#555" stroke-width="0.8"/>
<circle cx="256.2" cy="529.91" r="2.5" fill="#d4d4d4" stroke="#555" stroke-width="0.8"/>
<text x="169.41" y="558.3" font-size="10.9" fill="#222" textLength="64.36" lengthAdjust="spacingAndGlyphs" stroke="#222" stroke-width="0.15">Days post injury</text>
<text transform="translate(111.9,472.1) rotate(-90)" x="-33.89" y="0" font-size="10.4" fill="#222" stroke="#222" stroke-width="0.15" textLength="67.78" lengthAdjust="spacingAndGlyphs">Fold change (RQ)</text>
<text x="361.9" y="409.5" font-size="9.8" font-style="italic" fill="#333" textLength="12.74" lengthAdjust="spacingAndGlyphs">Tnf</text>
<line x1="313.1" y1="530.1" x2="313.1" y2="414.9" stroke="#111" stroke-width="1.2"/>
<line x1="310.1" y1="530.1" x2="313.1" y2="530.1" stroke="#222" stroke-width="1.1"/>
<text x="300.89" y="532.7" font-size="9.1" fill="#333" textLength="4.96" lengthAdjust="spacingAndGlyphs">0</text>
<line x1="310.1" y1="507.66" x2="313.1" y2="507.66" stroke="#222" stroke-width="1.1"/>
<text x="300.99" y="510.26" font-size="9.1" fill="#333" textLength="4.96" lengthAdjust="spacingAndGlyphs">2</text>
<line x1="310.1" y1="485.22" x2="313.1" y2="485.22" stroke="#222" stroke-width="1.1"/>
<text x="300.8" y="487.82" font-size="9.1" fill="#333" textLength="4.96" lengthAdjust="spacingAndGlyphs">4</text>
<line x1="310.1" y1="462.78" x2="313.1" y2="462.78" stroke="#222" stroke-width="1.1"/>
<text x="300.93" y="465.38" font-size="9.1" fill="#333" textLength="4.96" lengthAdjust="spacingAndGlyphs">6</text>
<line x1="310.1" y1="440.34" x2="313.1" y2="440.34" stroke="#222" stroke-width="1.1"/>
<text x="300.93" y="442.94" font-size="9.1" fill="#333" textLength="4.96" lengthAdjust="spacingAndGlyphs">8</text>
<line x1="310.1" y1="417.9" x2="313.1" y2="417.9" stroke="#222" stroke-width="1.1"/>
<text x="295.93" y="420.5" font-size="9.1" fill="#333" textLength="9.92" lengthAdjust="spacingAndGlyphs">10</text>
<line x1="314.8" y1="530.1" x2="314.8" y2="533.1" stroke="#333" stroke-width="1"/>
<text x="312.57" y="544.8" font-size="9.9" fill="#2a2a2a" textLength="4.46" lengthAdjust="spacingAndGlyphs" stroke="#2a2a2a" stroke-width="0.3">0</text>
<line x1="322.55" y1="530.1" x2="322.55" y2="533.1" stroke="#333" stroke-width="1"/>
<text x="320.32" y="544.8" font-size="9.9" fill="#2a2a2a" textLength="4.46" lengthAdjust="spacingAndGlyphs" stroke="#2a2a2a" stroke-width="0.3">2</text>
<line x1="341.93" y1="530.1" x2="341.93" y2="533.1" stroke="#333" stroke-width="1"/>
<text x="339.69" y="544.8" font-size="9.9" fill="#2a2a2a" textLength="4.46" lengthAdjust="spacingAndGlyphs" stroke="#2a2a2a" stroke-width="0.3">7</text>
<line x1="369.05" y1="530.1" x2="369.05" y2="533.1" stroke="#333" stroke-width="1"/>
<text x="364.4" y="544.8" font-size="9.9" fill="#2a2a2a" textLength="8.92" lengthAdjust="spacingAndGlyphs" stroke="#2a2a2a" stroke-width="0.3">14</text>
<line x1="423.3" y1="530.1" x2="423.3" y2="533.1" stroke="#333" stroke-width="1"/>
<text x="418.81" y="544.8" font-size="9.9" fill="#2a2a2a" textLength="8.92" lengthAdjust="spacingAndGlyphs" stroke="#2a2a2a" stroke-width="0.3">28</text>
<line x1="314.8" y1="528.98" x2="314.8" y2="513.27" stroke="#bd2a4c" stroke-width="1"/>
<line x1="312.7" y1="528.98" x2="316.9" y2="528.98" stroke="#bd2a4c" stroke-width="1"/>
<line x1="312.7" y1="513.27" x2="316.9" y2="513.27" stroke="#bd2a4c" stroke-width="1"/>
<line x1="322.55" y1="486.9" x2="322.55" y2="428.56" stroke="#bd2a4c" stroke-width="1"/>
<line x1="320.45" y1="486.9" x2="324.65" y2="486.9" stroke="#bd2a4c" stroke-width="1"/>
<line x1="320.45" y1="428.56" x2="324.65" y2="428.56" stroke="#bd2a4c" stroke-width="1"/>
<line x1="341.93" y1="513.27" x2="341.93" y2="502.61" stroke="#bd2a4c" stroke-width="1"/>
<line x1="339.82" y1="513.27" x2="344.03" y2="513.27" stroke="#bd2a4c" stroke-width="1"/>
<line x1="339.82" y1="502.61" x2="344.03" y2="502.61" stroke="#bd2a4c" stroke-width="1"/>
<polyline points="314.8,518.88 322.55,528.75 341.93,528.42 369.05,528.98 423.3,529.99" fill="none" stroke="#c4c4c4" stroke-width="1.3"/>
<line x1="313.1" y1="530.1" x2="423.8" y2="530.1" stroke="#333" stroke-width="1.4"/>
<polyline points="314.8,521.12 322.55,457.73 341.93,508.78 369.05,525.61 423.3,511.03" fill="none" stroke="#bd2a4c" stroke-width="1.2"/>
<circle cx="314.8" cy="521.12" r="2.5" fill="#a8183e" stroke="#5e0b22" stroke-width="0.8"/>
<circle cx="322.55" cy="457.73" r="2.5" fill="#a8183e" stroke="#5e0b22" stroke-width="0.8"/>
<circle cx="341.93" cy="508.78" r="2.5" fill="#a8183e" stroke="#5e0b22" stroke-width="0.8"/>
<circle cx="369.05" cy="525.61" r="2.5" fill="#a8183e" stroke="#5e0b22" stroke-width="0.8"/>
<circle cx="423.3" cy="511.03" r="2.5" fill="#a8183e" stroke="#5e0b22" stroke-width="0.8"/>
<circle cx="314.8" cy="518.88" r="2.5" fill="#d4d4d4" stroke="#555" stroke-width="0.8"/>
<circle cx="322.55" cy="528.75" r="2.5" fill="#d4d4d4" stroke="#555" stroke-width="0.8"/>
<circle cx="341.93" cy="528.42" r="2.5" fill="#d4d4d4" stroke="#555" stroke-width="0.8"/>
<circle cx="369.05" cy="528.98" r="2.5" fill="#d4d4d4" stroke="#555" stroke-width="0.8"/>
<circle cx="423.3" cy="529.99" r="2.5" fill="#d4d4d4" stroke="#555" stroke-width="0.8"/>
<text x="336.51" y="558.3" font-size="10.9" fill="#222" textLength="64.36" lengthAdjust="spacingAndGlyphs" stroke="#222" stroke-width="0.15">Days post injury</text>
<text transform="translate(288.6,472.1) rotate(-90)" x="-33.89" y="0" font-size="10.4" fill="#222" stroke="#222" stroke-width="0.15" textLength="67.78" lengthAdjust="spacingAndGlyphs">Fold change (RQ)</text>
<line x1="238.6" y1="382" x2="251.6" y2="382" stroke="#333" stroke-width="1.1"/>
<circle cx="245.1" cy="382" r="2.2" fill="#ddd" stroke="#333" stroke-width="0.9"/>
<text x="256.46" y="385" font-size="9" fill="#333" textLength="12.42" lengthAdjust="spacingAndGlyphs">WT</text>
<line x1="278.6" y1="382" x2="294.8" y2="382" stroke="#bd2a4c" stroke-width="1.1"/>
<circle cx="286.7" cy="382" r="2.4" fill="#a8183e" stroke="#5e0b22" stroke-width="0.8"/>
<text x="298.54" y="385" font-size="9" font-style="italic" fill="#333" textLength="9.91" lengthAdjust="spacingAndGlyphs">F8</text>
<text x="309.09" y="382.1" font-size="6.3" font-style="italic" fill="#333" textLength="21.43" lengthAdjust="spacingAndGlyphs">em1−/−</text>
<line x1="239.2" y1="574.6" x2="252.2" y2="574.6" stroke="#333" stroke-width="1.1"/>
<circle cx="245.7" cy="574.6" r="2.2" fill="#ddd" stroke="#333" stroke-width="0.9"/>
<text x="256.46" y="576.9" font-size="9" fill="#333" textLength="12.42" lengthAdjust="spacingAndGlyphs">WT</text>
<line x1="279.2" y1="574.6" x2="295.4" y2="574.6" stroke="#bd2a4c" stroke-width="1.1"/>
<circle cx="287.3" cy="574.6" r="2.4" fill="#a8183e" stroke="#5e0b22" stroke-width="0.8"/>
<text x="298.54" y="576.9" font-size="9" font-style="italic" fill="#333" textLength="9.91" lengthAdjust="spacingAndGlyphs">F8</text>
<text x="309.09" y="574" font-size="6.3" font-style="italic" fill="#333" textLength="21.43" lengthAdjust="spacingAndGlyphs">em1−/−</text>
</svg></body></html>
